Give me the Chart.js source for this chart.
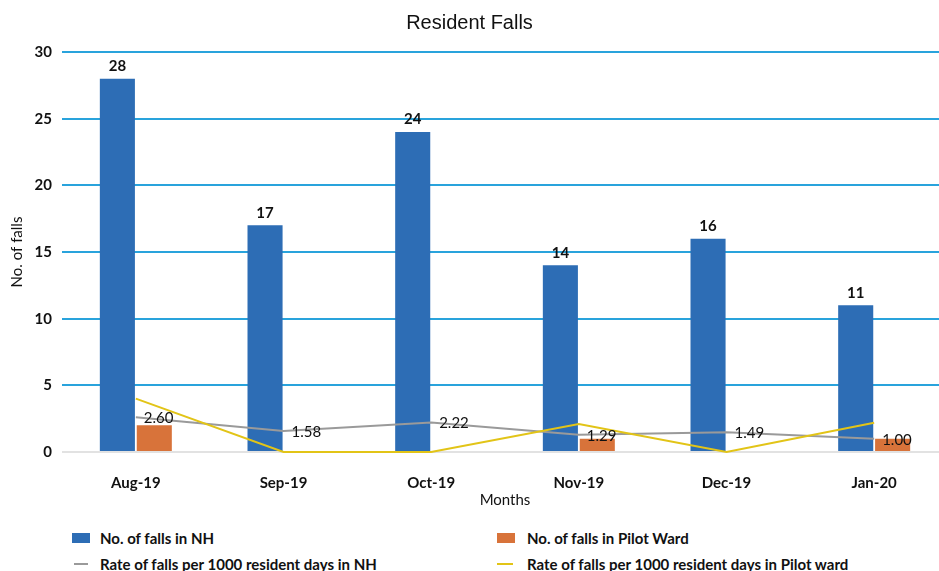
<!DOCTYPE html>
<html>
<head>
<meta charset="utf-8">
<title>Resident Falls</title>
<script src="https://cdn.jsdelivr.net/npm/chart.js@4.4.1/dist/chart.umd.min.js"></script>
<style>
  html, body { margin: 0; padding: 0; background: #fff; overflow: hidden; width: 939px; height: 571px; }
  #title { position: absolute; left: 0; top: 11px; width: 939px; text-align: center;
           font: 20px 'Liberation Sans', Arial, sans-serif; color: #111; }
  #wrap { position: absolute; left: 0; top: 0; width: 948px; height: 515px; }
  .lg { position: absolute; font: bold 15px Lato, sans-serif; color: #111; white-space: nowrap; }
  .sw { position: absolute; }
</style>
</head>
<body>
<div id="wrap"><canvas id="falls"></canvas></div>
<div id="title">Resident Falls</div>

<div class="sw" style="left:72px;top:533px;width:18px;height:10px;background:#2d6db5"></div>
<div class="lg" style="left:100px;top:529px">No. of falls in NH</div>
<div class="sw" style="left:497px;top:533px;width:18px;height:10px;background:#d8733a"></div>
<div class="lg" style="left:527px;top:529px">No. of falls in Pilot Ward</div>
<div class="sw" style="left:74px;top:563px;width:14px;height:2px;background:#9a9a9a"></div>
<div class="lg" style="left:100px;top:555px">Rate of falls per 1000 resident days in NH</div>
<div class="sw" style="left:497px;top:563px;width:16px;height:2px;background:#e2c417"></div>
<div class="lg" style="left:527px;top:555px">Rate of falls per 1000 resident days in Pilot ward</div>

<script>
/* ----------------------------------------------------------
   Data
   ---------------------------------------------------------- */
const months     = ['Aug-19', 'Sep-19', 'Oct-19', 'Nov-19', 'Dec-19', 'Jan-20'];
const fallsNH    = [28, 17, 24, 14, 16, 11];
const fallsPilot = [2, 0, 0, 1, 0, 1];
const rateNH     = [2.60, 1.58, 2.22, 1.29, 1.49, 1.00];
const ratePilot  = [4.0, 0, 0, 2.1, 0, 2.2];

const COLORS = {
  nh:    '#2d6db5',
  pilot: '#d8733a',
  gray:  '#9a9a9a',
  yellow:'#e2c417',
  grid:  '#29a3dc',
  ink:   '#111',
};

function font(size, weight = 'normal') {
  return { family: "Lato, 'Liberation Sans', sans-serif", size, weight };
}

// Value labels: above NH bars, right of the NH rate points
const valueLabels = {
  id: 'valueLabels',
  afterDatasetsDraw(chart) {
    const ctx = chart.ctx;
    ctx.save();
    ctx.fillStyle = COLORS.ink;

    ctx.font = 'bold 15px Lato, sans-serif';
    ctx.textAlign = 'center';
    ctx.textBaseline = 'bottom';
    chart.getDatasetMeta(0).data.forEach((bar, i) => {
      ctx.fillText(String(fallsNH[i]), bar.x, bar.y - 5);
    });

    ctx.font = '15px Lato, sans-serif';
    ctx.textAlign = 'left';
    ctx.textBaseline = 'middle';
    chart.getDatasetMeta(2).data.forEach((pt, i) => {
      ctx.fillText(rateNH[i].toFixed(2), pt.x + 8, pt.y + 1);
    });
    ctx.restore();
  },
};

new Chart(document.getElementById('falls'), {
  type: 'bar',
  data: {
    labels: months,
    datasets: [
      { label: 'No. of falls in NH', data: fallsNH, backgroundColor: COLORS.nh,
        barPercentage: 0.95, categoryPercentage: 0.5, order: 2 },
      { label: 'No. of falls in Pilot Ward', data: fallsPilot, backgroundColor: COLORS.pilot,
        barPercentage: 0.95, categoryPercentage: 0.5, order: 2 },
      { type: 'line', label: 'Rate of falls per 1000 resident days in NH', data: rateNH,
        borderColor: COLORS.gray, borderWidth: 2, pointRadius: 0, tension: 0, order: 1, clip: false },
      { type: 'line', label: 'Rate of falls per 1000 resident days in Pilot ward', data: ratePilot,
        borderColor: COLORS.yellow, borderWidth: 2, pointRadius: 0, tension: 0, order: 0, clip: false },
    ],
  },
  options: {
    responsive: true,
    maintainAspectRatio: false,
    animation: false,
    layout: { padding: { top: 52, left: 0, right: 0, bottom: 0 } },
    plugins: {
      legend: { display: false },
      title: { display: false },
      tooltip: { enabled: false },
    },
    scales: {
      x: {
        grid: { display: false },
        border: { display: false },
        ticks: { font: font(15, 'bold'), color: COLORS.ink, padding: 14 },
        title: { display: true, text: 'Months', font: font(15), color: COLORS.ink, padding: { top: 0, bottom: 6 } },
        afterFit(scale) { scale.height = 63; },
      },
      y: {
        min: 0, max: 30,
        border: { display: false },
        grid: {
          drawTicks: false,
          lineWidth: 2,
          color: (c) => (c.tick && c.tick.value === 0 ? '#e2e2e2' : COLORS.grid),
        },
        ticks: { stepSize: 5, font: font(15, 'bold'), color: COLORS.ink, padding: 10 },
        title: { display: true, text: 'No. of falls', font: font(15), color: COLORS.ink, padding: { top: 8, bottom: 0 } },
        afterFit(scale) { scale.width = 62; },
      },
    },
  },
  plugins: [valueLabels],
});
</script>
</body>
</html>
